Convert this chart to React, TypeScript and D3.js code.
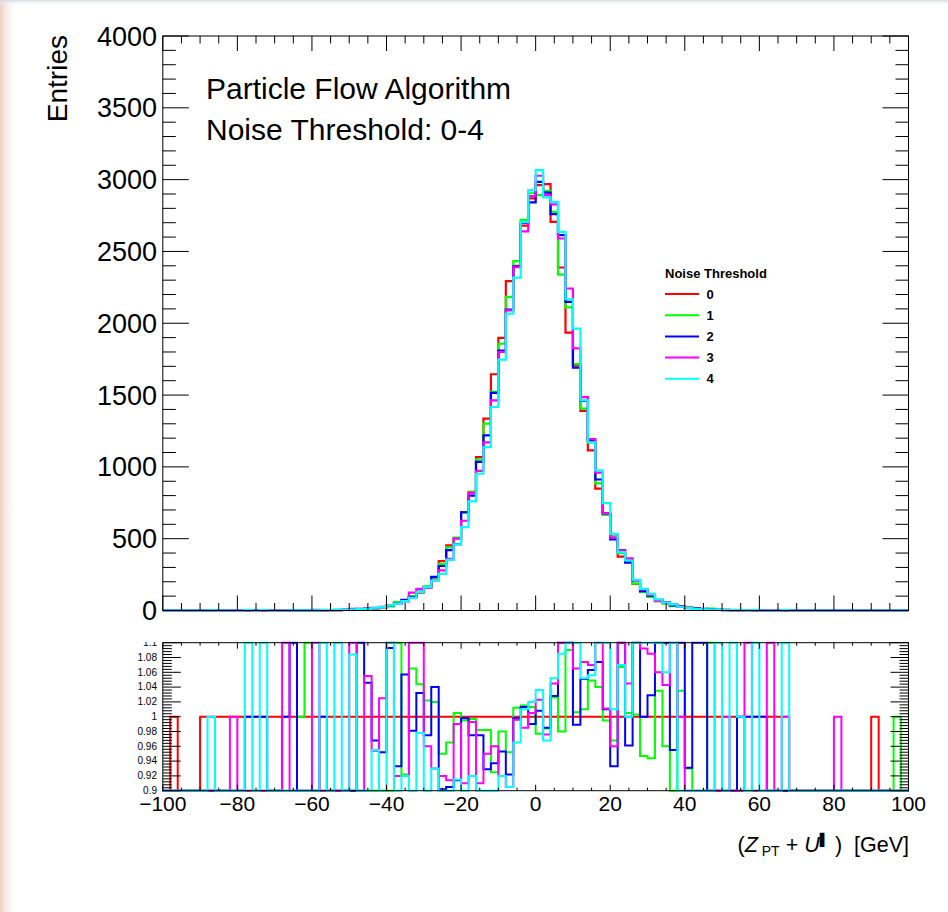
import React from "react";
import * as d3 from "d3";

const X_MIN = -100;
const X_MAX = 100;
const BIN_WIDTH = 2;

const seriesLabels = ["0", "1", "2", "3", "4"];
const seriesColors = ["#ff0000", "#00ff00", "#0000ff", "#ff00ff", "#00ffff"];

// Entries per 2 GeV bin, bins from -100 to 100
const entriesNT0 = [
  0, 1, 0, 0, 0, 1, 1, 1, 1, 1,
  1, 1, 1, 1, 1, 1, 1, 1, 1, 2,
  2, 2, 3, 4, 5, 7, 9, 12, 18, 24,
  32, 50, 70, 95, 125, 165, 225, 344, 453, 503,
  685, 826, 1068, 1336, 1645, 1898, 2293, 2400, 2680, 2870,
  2962, 2969, 2706, 2388, 1935, 1705, 1390, 1115, 848, 669,
  529, 375, 348, 186, 135, 100, 65, 52, 38, 27,
  20, 14, 10, 7, 5, 4, 3, 2, 2, 1,
  1, 1, 1, 1, 0, 0, 0, 0, 0, 0,
  0, 0, 0, 0, 0, 1, 0, 0, 0, 0,
];
const entriesNT1 = [
  0, 0, 0, 0, 0, 0, 0, 0, 0, 0,
  0, 0, 0, 0, 0, 0, 0, 0, 1, 2,
  1, 1, 2, 3, 4, 6, 8, 10, 15, 21,
  28, 58, 65, 101, 130, 168, 229, 325, 440, 507,
  682, 823, 1050, 1301, 1522, 1858, 2183, 2432, 2720, 2905,
  2892, 2922, 2776, 2339, 2110, 1715, 1405, 1170, 885, 666,
  512, 400, 350, 187, 128, 94, 67, 50, 30, 28,
  19, 12, 9, 14, 4, 3, 2, 1, 1, 0,
  0, 0, 0, 0, 0, 0, 0, 0, 0, 0,
  0, 0, 0, 0, 0, 0, 0, 0, 1, 0,
];
const entriesNT2 = [
  0, 0, 0, 0, 0, 0, 0, 0, 0, 0,
  0, 1, 1, 1, 0, 0, 1, 3, 0, 1,
  1, 2, 2, 3, 4, 6, 12, 13, 17, 23,
  35, 47, 74, 93, 129, 161, 234, 310, 420, 462,
  684, 800, 1035, 1220, 1515, 1810, 2095, 2395, 2700, 2842,
  2985, 2910, 2760, 2613, 2149, 1690, 1460, 1185, 912, 676,
  495, 420, 334, 210, 135, 103, 74, 57, 36, 31,
  19, 16, 12, 6, 4, 3, 2, 2, 2, 1,
  1, 0, 0, 0, 0, 0, 0, 0, 0, 0,
  0, 0, 0, 0, 0, 0, 0, 0, 0, 0,
];
const entriesNT3 = [
  0, 0, 0, 0, 0, 0, 0, 0, 0, 1,
  0, 0, 0, 0, 0, 0, 3, 0, 0, 0,
  4, 1, 2, 3, 4, 11, 7, 13, 17, 25,
  38, 46, 64, 124, 150, 158, 209, 279, 360, 500,
  625, 818, 972, 1170, 1463, 1800, 2090, 2390, 2640, 2885,
  3027, 2892, 2828, 2590, 2242, 1825, 1485, 1193, 960, 676,
  508, 418, 363, 212, 147, 108, 69, 54, 43, 27,
  17, 11, 8, 5, 4, 4, 2, 1, 3, 0,
  0, 2, 0, 1, 0, 0, 0, 0, 0, 0,
  1, 0, 0, 0, 0, 0, 0, 0, 0, 0,
];
const entriesNT4 = [
  0, 0, 0, 0, 0, 0, 1, 0, 0, 0,
  0, 2, 0, 2, 0, 0, 0, 1, 1, 1,
  1, 4, 2, 6, 4, 7, 9, 12, 19, 23,
  35, 46, 65, 88, 128, 163, 209, 255, 353, 460,
  581, 760, 952, 1138, 1417, 1747, 2067, 2318, 2706, 2927,
  3066, 2876, 2843, 2636, 2167, 1963, 1463, 1170, 976, 748,
  534, 406, 348, 214, 151, 116, 77, 55, 43, 26,
  17, 12, 8, 6, 6, 3, 4, 2, 1, 2,
  0, 0, 0, 2, 0, 0, 0, 0, 0, 0,
  0, 0, 0, 0, 0, 0, 0, 0, 0, 0,
];

// Ratio panel values per bin
const ratioNT0 = [
  0, 1, 0, 0, 0, 1, 1, 1, 1, 1,
  1, 1, 1, 1, 1, 1, 1, 1, 1, 1,
  1, 1, 1, 1, 1, 1, 1, 1, 1, 1,
  1, 1, 1, 1, 1, 1, 1, 1, 1, 1,
  1, 1, 1, 1, 1, 1, 1, 1, 1, 1,
  1, 1, 1, 1, 1, 1, 1, 1, 1, 1,
  1, 1, 1, 1, 1, 1, 1, 1, 1, 1,
  1, 1, 1, 1, 1, 1, 1, 1, 1, 1,
  1, 1, 1, 1, 0, 0, 0, 0, 0, 0,
  0, 0, 0, 0, 0, 1, 0, 0, 0, 0,
];
const ratioNT1 = [
  0, 0, 0, 0, 0, 0, 0, 0, 0, 0,
  0, 0, 0, 0, 0, 0, 0, 0, 1, 2,
  0, 0, 0, 0, 0, 0, 0, 0, 0, 0,
  0, 1.5, 0.922, 1.065, 1.044, 1.022, 1.02, 0.95, 0.965, 1.005,
  0.995, 0.997, 0.982, 0.982, 0.925, 0.98, 0.952, 1.012, 1.015, 1.013,
  0.977, 0.984, 1.026, 0.98, 1.09, 1.006, 1.01, 1.049, 1.04, 0.995,
  0.968, 1.067, 1.005, 1.003, 0.947, 0.944, 1.035, 0.96, 0, 1.035,
  0.93, 0, 0, 2, 0, 0, 0, 0, 0, 0,
  0, 0, 0, 0, 0, 0, 0, 0, 0, 0,
  0, 0, 0, 0, 0, 0, 0, 0, 1, 0,
];
const ratioNT2 = [
  0, 0, 0, 0, 0, 0, 0, 0, 0, 0,
  0, 1, 1, 1, 0, 0, 1, 2, 0, 0,
  0, 1, 0, 0, 0, 0, 1.5, 1.046, 0.968, 0.952,
  1.093, 0.933, 1.057, 0.981, 1.032, 0.975, 1.04, 0.902, 0.905, 0.914,
  0.998, 0.975, 0.975, 0.929, 0.937, 0.953, 0.922, 0.998, 1.013, 0.99,
  1.008, 0.985, 1.028, 1.15, 1.12, 0.989, 1.051, 1.063, 1.074, 1.01,
  0.933, 1.15, 0.961, 1.2, 1.0, 1.029, 1.2, 1.15, 0.955, 1.5,
  0.931, 2, 2, 0, 0, 0, 0, 1, 1, 1,
  1, 0, 0, 0, 0, 0, 0, 0, 0, 0,
  0, 0, 0, 0, 0, 0, 0, 0, 0, 0,
];
const ratioNT3 = [
  0, 0, 0, 0, 0, 0, 0, 0, 0, 1,
  0, 0, 0, 0, 0, 0, 3, 0, 0, 0,
  2, 0, 0, 0, 0, 1.5, 0, 1.055, 0.954, 1.025,
  1.2, 0.92, 0.92, 1.3, 1.2, 0.96, 0.93, 0.92, 0.914, 0.99,
  0.91, 0.993, 0.91, 0.95, 0.96, 0.92, 0.905, 0.996, 0.985, 1.005,
  1.023, 0.976, 1.045, 1.2, 1.15, 1.065, 1.074, 1.07, 1.13, 1.011,
  0.96, 1.12, 1.045, 1.14, 1.092, 1.085, 1.06, 1.043, 1.15, 1,
  0, 0, 0, 0, 0, 1, 0, 0, 1.5, 0,
  0, 2, 0, 1, 0, 0, 0, 0, 0, 0,
  1, 0, 0, 0, 0, 0, 0, 0, 0, 0,
];
const ratioNT4 = [
  0, 0, 0, 0, 0, 0, 1, 0, 0, 0,
  0, 2, 0, 1.5, 0, 0, 0, 0, 0, 0,
  0, 2, 0, 3, 0, 1.084, 0, 0, 0.955, 0,
  1.5, 0, 0.92, 0, 0.978, 0, 0.93, 0.74, 0.78, 0.915,
  0.85, 0.92, 0.89, 0.85, 0.86, 0.92, 0.905, 0.965, 1.01, 1.02,
  1.036, 0.968, 1.052, 1.085, 1.12, 1.15, 1.052, 1.056, 1.15, 1.12,
  1.01, 1.07, 1.0, 1.15, 1.12, 1.16, 1.18, 1.06, 1.13, 0,
  0, 0, 0, 0, 1.2, 0, 2, 1, 0, 2,
  0, 0, 0, 2, 0, 0, 0, 0, 0, 0,
  0, 0, 0, 0, 0, 0, 0, 0, 0, 0,
];

const entriesSeries = [entriesNT0, entriesNT1, entriesNT2, entriesNT3, entriesNT4];
const ratioSeries = [ratioNT0, ratioNT1, ratioNT2, ratioNT3, ratioNT4];

const yMainTicks = [0, 500, 1000, 1500, 2000, 2500, 3000, 3500, 4000];
const yMainTickLabels = ["0", "500", "1000", "1500", "2000", "2500", "3000", "3500", "4000"];
const xTicks = [-100, -80, -60, -40, -20, 0, 20, 40, 60, 80, 100];
const xTickLabels = ["\u2212100", "\u221280", "\u221260", "\u221240", "\u221220", "0", "20", "40", "60", "80", "100"];
const ratioTicks = [0.9, 0.92, 0.94, 0.96, 0.98, 1.0, 1.02, 1.04, 1.06, 1.08, 1.1];
const ratioTickLabels = ["0.9", "0.92", "0.94", "0.96", "0.98", "1", "1.02", "1.04", "1.06", "1.08", "1.1"];

const FONT = "'Liberation Sans', Arial, Helvetica, sans-serif";

export default function App() {
  const W = 948;
  const H = 912;
  const left = 162.8;
  const right = 908.5;
  const mainTop = 36;
  const mainBottom = 610.5;
  const ratTop = 642.7;
  const ratBottom = 790.7;

  const x = d3.scaleLinear().domain([X_MIN, X_MAX]).range([left, right]);
  const yMain = d3.scaleLinear().domain([0, 4000]).range([mainBottom, mainTop]);
  const yRat = d3.scaleLinear().domain([0.9, 1.1]).range([ratBottom, ratTop]);

  const nBins = entriesNT0.length;
  const binLow = d3.range(nBins).map((i) => X_MIN + i * BIN_WIDTH);
  const line = d3.line<[number, number]>();

  const stepPath = (vals: number[], y: d3.ScaleLinear<number, number>, lo: number, hi: number) => {
    const pts: [number, number][] = [[x(X_MIN), y(lo)]];
    vals.forEach((v, i) => {
      const c = Math.max(lo, Math.min(hi, v));
      pts.push([x(binLow[i]), y(c)], [x(binLow[i] + BIN_WIDTH), y(c)]);
    });
    pts.push([x(X_MAX), y(lo)]);
    return line(pts) || "";
  };

  const xMinor = d3.range(0, 41).map((i) => X_MIN + i * 5).filter((v) => v % 20 !== 0);
  const yMainMinor = d3.range(0, 41).map((i) => i * 100).filter((v) => v % 500 !== 0);
  const ratMinor = d3.range(0, 51).map((i) => 0.9 + i * 0.004).filter((_, i) => i % 5 !== 0);

  const legendX = 665;
  const legendY0 = 294;
  const legendDy = 21.2;

  return (
    <svg
      width={W}
      height={H}
      viewBox={`0 0 ${W} ${H}`}
      style={{ position: "absolute", left: 0, top: 0, background: "#ffffff" }}
      fontFamily={FONT}
    >
      <defs>
        <linearGradient id="leftEdge" x1="0" x2="1" y1="0" y2="0">
          <stop offset="0%" stopColor="#e7cbbb" stopOpacity={0.9} />
          <stop offset="100%" stopColor="#ffffff" stopOpacity={0} />
        </linearGradient>
        <linearGradient id="topEdge" x1="0" x2="0" y1="0" y2="1">
          <stop offset="0%" stopColor="#d3d8e0" stopOpacity={0.9} />
          <stop offset="100%" stopColor="#ffffff" stopOpacity={0} />
        </linearGradient>
        <clipPath id="mainClip">
          <rect x={left} y={mainTop - 2} width={right - left} height={mainBottom - mainTop + 4} />
        </clipPath>
        <clipPath id="ratClip">
          <rect x={left - 2} y={ratTop - 1.5} width={right - left + 4} height={ratBottom - ratTop + 3} />
        </clipPath>
        <clipPath id="ratLabelClip">
          <rect x={0} y={642} width={W} height={H - 642} />
        </clipPath>
      </defs>
      <rect x={0} y={0} width={W} height={H} fill="#ffffff" />
      <rect x={0} y={0} width={18} height={H} fill="url(#leftEdge)" />
      <rect x={0} y={0} width={W} height={6} fill="url(#topEdge)" />

      {/* ===== Main panel ===== */}
      <g clipPath="url(#mainClip)">
        {entriesSeries.map((vals, s) => (
          <path
            key={`h${s}`}
            d={stepPath(vals, yMain, 0, 4000)}
            fill="none"
            stroke={seriesColors[s]}
            strokeWidth={2.2}
          />
        ))}
      </g>
      <rect x={left} y={mainTop} width={right - left} height={mainBottom - mainTop} fill="none" stroke="#000" strokeWidth={1} />
      <g stroke="#000" strokeWidth={1}>
        {yMainTicks.map((v) => (
          <g key={`ym${v}`}>
            <line x1={left} x2={left + 26} y1={yMain(v)} y2={yMain(v)} />
            <line x1={right} x2={right - 26} y1={yMain(v)} y2={yMain(v)} />
          </g>
        ))}
        {yMainMinor.map((v) => (
          <g key={`ymm${v}`}>
            <line x1={left} x2={left + 13} y1={yMain(v)} y2={yMain(v)} />
            <line x1={right} x2={right - 13} y1={yMain(v)} y2={yMain(v)} />
          </g>
        ))}
        {xTicks.map((v) => (
          <g key={`xm${v}`}>
            <line x1={x(v)} x2={x(v)} y1={mainBottom} y2={mainBottom - 15} />
            <line x1={x(v)} x2={x(v)} y1={mainTop} y2={mainTop + 15} />
          </g>
        ))}
        {xMinor.map((v) => (
          <g key={`xmm${v}`}>
            <line x1={x(v)} x2={x(v)} y1={mainBottom} y2={mainBottom - 7.5} />
            <line x1={x(v)} x2={x(v)} y1={mainTop} y2={mainTop + 7.5} />
          </g>
        ))}
      </g>
      <g fontSize={27} fill="#000" textAnchor="end">
        {yMainTicks.map((v, i) => (
          <text key={`yl${v}`} x={157} y={yMain(v) + 9.6}>
            {yMainTickLabels[i]}
          </text>
        ))}
      </g>
      <text transform="translate(67,35) rotate(-90)" textAnchor="end" fontSize={28} fill="#000">
        Entries
      </text>
      <text x={206} y={99.3} fontSize={30} fill="#000">
        Particle Flow Algorithm
      </text>
      <text x={206} y={140} fontSize={30} fill="#000">
        Noise Threshold: 0-4
      </text>

      {/* Legend */}
      <text x={legendX} y={277.5} fontSize={13} fontWeight="bold" fill="#000">
        Noise Threshold
      </text>
      {seriesLabels.map((lab, s) => (
        <g key={`lg${s}`}>
          <line
            x1={legendX}
            x2={legendX + 34}
            y1={legendY0 + s * legendDy}
            y2={legendY0 + s * legendDy}
            stroke={seriesColors[s]}
            strokeWidth={2}
          />
          <text x={legendX + 41.5} y={legendY0 + s * legendDy + 4.5} fontSize={13} fontWeight="bold" fill="#000">
            {lab}
          </text>
        </g>
      ))}

      {/* ===== Ratio panel ===== */}
      <g clipPath="url(#ratClip)">
        {ratioSeries.map((vals, s) => (
          <path
            key={`r${s}`}
            d={stepPath(vals, yRat, 0.9, 1.1)}
            fill="none"
            stroke={seriesColors[s]}
            strokeWidth={2}
          />
        ))}
      </g>
      <rect x={left} y={ratTop} width={right - left} height={ratBottom - ratTop} fill="none" stroke="#000" strokeWidth={1} />
      <g stroke="#000" strokeWidth={1}>
        {ratioTicks.map((v) => (
          <g key={`rt${v}`}>
            <line x1={left} x2={left + 18} y1={yRat(v)} y2={yRat(v)} />
            <line x1={right} x2={right - 18} y1={yRat(v)} y2={yRat(v)} />
          </g>
        ))}
        {ratMinor.map((v, i) => (
          <g key={`rtm${i}`}>
            <line x1={left} x2={left + 9} y1={yRat(v)} y2={yRat(v)} />
            <line x1={right} x2={right - 9} y1={yRat(v)} y2={yRat(v)} />
          </g>
        ))}
        {xTicks.map((v) => (
          <g key={`rx${v}`}>
            <line x1={x(v)} x2={x(v)} y1={ratBottom} y2={ratBottom - 6} />
            <line x1={x(v)} x2={x(v)} y1={ratTop} y2={ratTop + 6} />
          </g>
        ))}
        {xMinor.map((v) => (
          <g key={`rxm${v}`}>
            <line x1={x(v)} x2={x(v)} y1={ratBottom} y2={ratBottom - 3} />
            <line x1={x(v)} x2={x(v)} y1={ratTop} y2={ratTop + 3} />
          </g>
        ))}
      </g>
      <g fontSize={10} fill="#000" textAnchor="end" clipPath="url(#ratLabelClip)">
        {ratioTicks.map((v, i) => (
          <text key={`rl${i}`} x={157} y={yRat(v) + 3.3}>
            {ratioTickLabels[i]}
          </text>
        ))}
      </g>
      <g fontSize={21} fill="#000" textAnchor="middle">
        {xTicks.map((v, i) => (
          <text key={`xl${v}`} x={x(v)} y={811}>
            {xTickLabels[i]}
          </text>
        ))}
      </g>
      <text x={909} y={852} textAnchor="end" fontSize={21.5} fill="#000" style={{ whiteSpace: "pre" }}>
        <tspan>(</tspan>
        <tspan fontStyle="italic">Z</tspan>
        <tspan fontSize={14} dy={4}> PT</tspan>
        <tspan dy={-4}> + </tspan>
        <tspan fontStyle="italic">U</tspan>
        <tspan fontSize={12} dy={-8} fontFamily="'DejaVu Sans', sans-serif">{"\u258C"}</tspan>
        <tspan dy={8}> )  [GeV]</tspan>
      </text>
    </svg>
  );
}
